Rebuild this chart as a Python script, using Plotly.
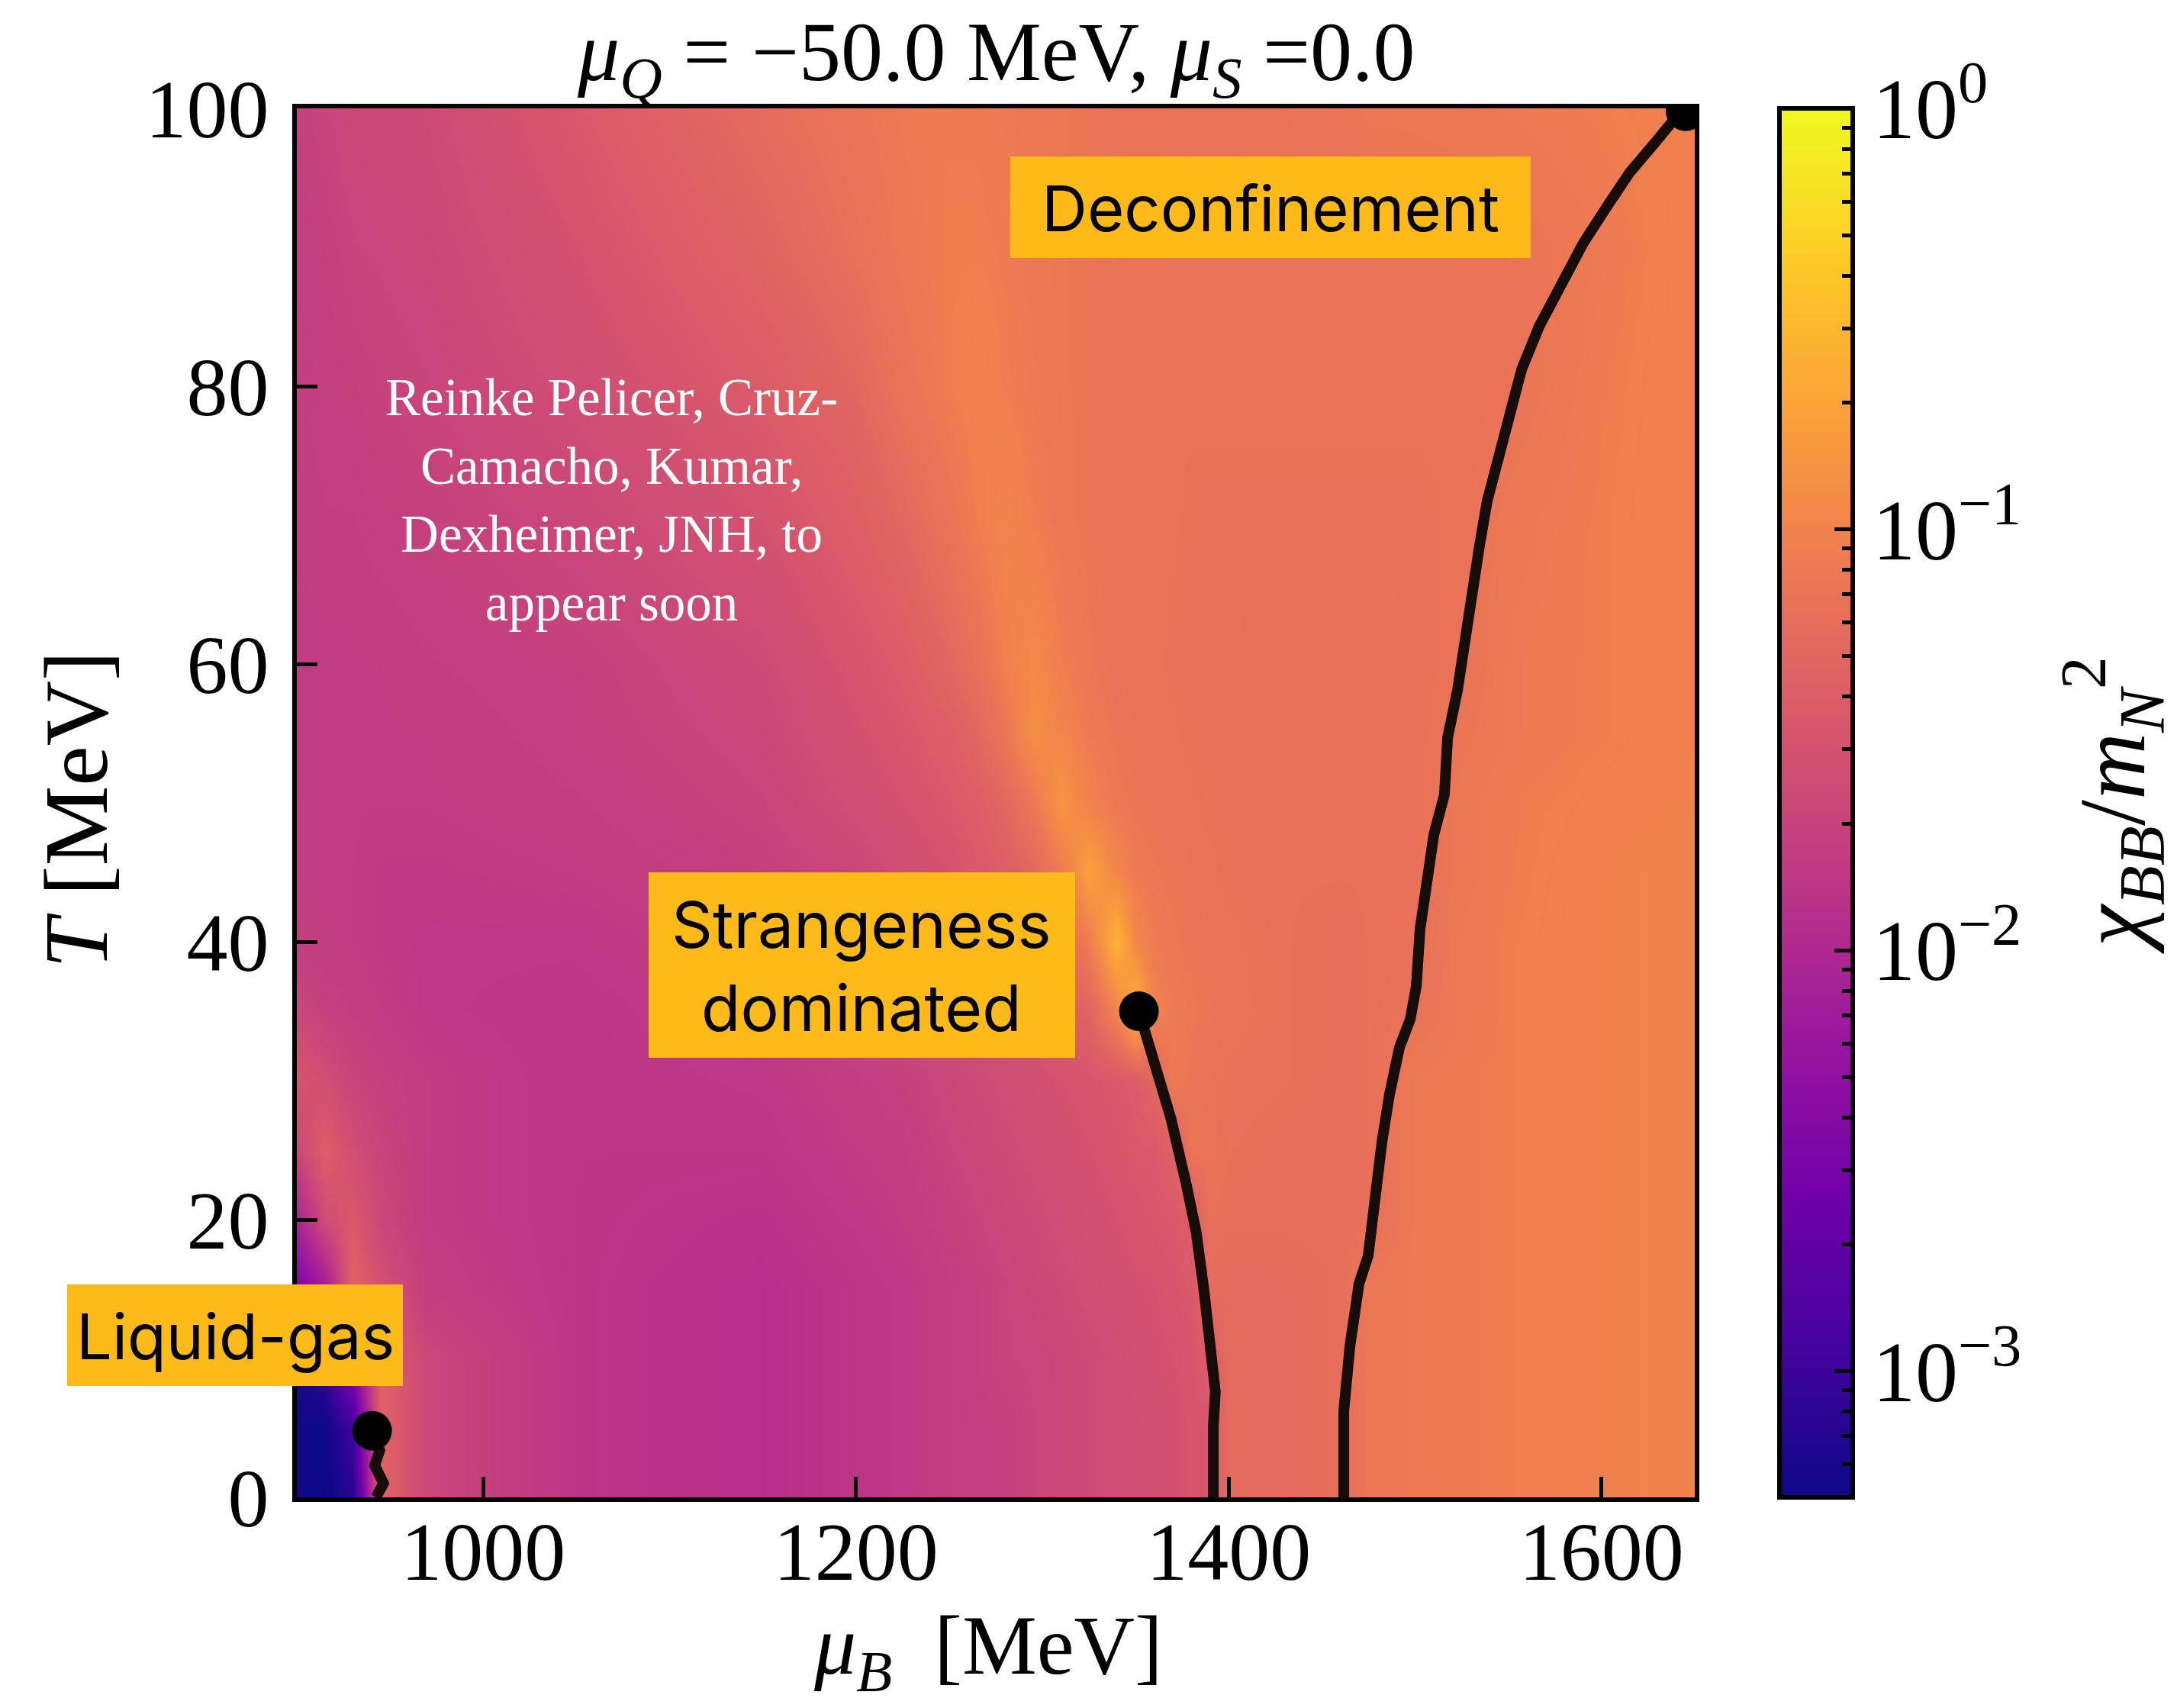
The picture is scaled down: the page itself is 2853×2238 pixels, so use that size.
import numpy as np
import plotly.graph_objects as go

# ---------------- data ----------------
muB_cols = [900, 915, 930, 945, 970, 1050, 1150, 1200, 1225, 1250, 1265, 1280, 1295, 1310, 1325,
            1340, 1350, 1360, 1370, 1380, 1390, 1400, 1430, 1460, 1475, 1500, 1525, 1550, 1600, 1650]
T_rows = [0, 5, 10, 15, 20, 25, 30, 35, 40, 45, 50, 55, 60, 70, 80, 90, 100]

# log10(chi_BB / m_N^2) per temperature row (columns = muB_cols)
logchi_T0 = [-3.30, -3.30, -3.14, -1.32, -1.65, -1.85, -1.91, -1.85, -1.82, -1.75, -1.73, -1.72, -1.68, -1.65, -1.62, -1.58, -1.57, -1.55, -1.53, -1.50, -1.47, -1.25, -1.24, -1.22, -1.11, -1.09, -1.07, -1.06, -1.02, -0.99]
logchi_T5 = [-3.30, -3.30, -2.97, -1.32, -1.65, -1.85, -1.91, -1.85, -1.82, -1.75, -1.73, -1.72, -1.68, -1.65, -1.62, -1.58, -1.57, -1.55, -1.53, -1.50, -1.47, -1.25, -1.24, -1.22, -1.11, -1.09, -1.07, -1.06, -1.02, -0.99]
logchi_T10 = [-3.23, -3.04, -2.31, -1.39, -1.65, -1.85, -1.91, -1.85, -1.82, -1.75, -1.72, -1.68, -1.67, -1.65, -1.62, -1.58, -1.55, -1.53, -1.52, -1.49, -1.39, -1.25, -1.24, -1.22, -1.11, -1.09, -1.07, -1.06, -1.02, -0.99]
logchi_T15 = [-2.48, -2.15, -1.32, -1.55, -1.75, -1.85, -1.91, -1.85, -1.82, -1.75, -1.72, -1.68, -1.65, -1.62, -1.58, -1.55, -1.53, -1.52, -1.49, -1.45, -1.24, -1.25, -1.24, -1.22, -1.12, -1.09, -1.07, -1.06, -1.02, -0.99]
logchi_T20 = [-2.05, -1.58, -1.45, -1.65, -1.78, -1.85, -1.88, -1.82, -1.78, -1.72, -1.68, -1.65, -1.62, -1.58, -1.55, -1.52, -1.49, -1.47, -1.45, -1.39, -1.20, -1.22, -1.22, -1.22, -1.20, -1.09, -1.07, -1.06, -1.02, -0.99]
logchi_T25 = [-1.65, -1.39, -1.58, -1.68, -1.78, -1.85, -1.85, -1.78, -1.75, -1.68, -1.65, -1.62, -1.58, -1.55, -1.52, -1.49, -1.45, -1.44, -1.36, -1.16, -1.17, -1.20, -1.22, -1.22, -1.20, -1.09, -1.07, -1.06, -1.02, -0.99]
logchi_T30 = [-1.49, -1.58, -1.68, -1.72, -1.78, -1.85, -1.82, -1.75, -1.72, -1.65, -1.62, -1.58, -1.55, -1.52, -1.49, -1.45, -1.42, -1.29, -1.09, -1.14, -1.16, -1.19, -1.20, -1.22, -1.20, -1.09, -1.07, -1.06, -1.02, -0.99]
logchi_T35 = [-1.65, -1.72, -1.75, -1.78, -1.82, -1.85, -1.78, -1.72, -1.65, -1.58, -1.55, -1.52, -1.49, -1.42, -1.32, -0.99, -0.59, -1.02, -1.09, -1.12, -1.14, -1.16, -1.20, -1.22, -1.20, -1.17, -1.09, -1.06, -1.02, -0.99]
logchi_T40 = [-1.75, -1.77, -1.78, -1.80, -1.82, -1.82, -1.75, -1.68, -1.62, -1.55, -1.52, -1.45, -1.39, -1.29, -1.06, -0.56, -0.96, -1.09, -1.12, -1.14, -1.16, -1.17, -1.20, -1.22, -1.20, -1.19, -1.09, -1.06, -1.02, -0.99]
logchi_T45 = [-1.77, -1.78, -1.78, -1.80, -1.80, -1.78, -1.72, -1.65, -1.58, -1.52, -1.45, -1.39, -1.29, -1.09, -0.73, -0.97, -1.09, -1.12, -1.14, -1.16, -1.17, -1.19, -1.20, -1.20, -1.20, -1.19, -1.11, -1.07, -1.02, -0.99]
logchi_T50 = [-1.77, -1.78, -1.78, -1.78, -1.78, -1.75, -1.68, -1.58, -1.52, -1.45, -1.39, -1.29, -1.11, -0.83, -1.01, -1.11, -1.14, -1.16, -1.17, -1.17, -1.19, -1.19, -1.20, -1.20, -1.20, -1.19, -1.11, -1.07, -1.04, -1.01]
logchi_T55 = [-1.78, -1.78, -1.78, -1.78, -1.77, -1.73, -1.65, -1.53, -1.47, -1.39, -1.29, -1.14, -0.89, -0.98, -1.09, -1.14, -1.16, -1.17, -1.17, -1.19, -1.19, -1.19, -1.20, -1.20, -1.20, -1.19, -1.14, -1.09, -1.06, -1.02]
logchi_T60 = [-1.78, -1.78, -1.78, -1.77, -1.75, -1.72, -1.62, -1.49, -1.42, -1.29, -1.19, -1.04, -0.94, -1.06, -1.12, -1.16, -1.17, -1.17, -1.19, -1.19, -1.19, -1.19, -1.20, -1.20, -1.20, -1.19, -1.17, -1.09, -1.06, -1.02]
logchi_T70 = [-1.77, -1.75, -1.75, -1.73, -1.72, -1.65, -1.52, -1.39, -1.29, -1.16, -1.06, -0.99, -1.06, -1.11, -1.14, -1.16, -1.17, -1.17, -1.17, -1.19, -1.19, -1.19, -1.19, -1.19, -1.19, -1.19, -1.17, -1.11, -1.06, -1.02]
logchi_T80 = [-1.75, -1.73, -1.72, -1.70, -1.68, -1.58, -1.42, -1.29, -1.16, -1.06, -1.02, -1.06, -1.09, -1.12, -1.14, -1.16, -1.16, -1.17, -1.17, -1.17, -1.17, -1.17, -1.17, -1.17, -1.17, -1.17, -1.17, -1.16, -1.07, -1.02]
logchi_T90 = [-1.73, -1.72, -1.68, -1.67, -1.65, -1.52, -1.32, -1.19, -1.11, -1.06, -1.06, -1.07, -1.11, -1.12, -1.14, -1.16, -1.16, -1.16, -1.17, -1.17, -1.17, -1.17, -1.17, -1.17, -1.17, -1.16, -1.16, -1.16, -1.09, -1.02]
logchi_T100 = [-1.72, -1.68, -1.65, -1.63, -1.62, -1.45, -1.24, -1.14, -1.09, -1.07, -1.07, -1.09, -1.11, -1.12, -1.14, -1.16, -1.16, -1.16, -1.16, -1.17, -1.17, -1.17, -1.16, -1.14, -1.12, -1.12, -1.11, -1.09, -1.06, -1.02]

# phase-transition lines
lg_muB = [940.4, 944.5, 941.8, 946.5, 942.5]
lg_T = [4.8, 3.4, 2.3, 1.0, 0.0]
str_muB = [1351.8, 1368.9, 1377.1, 1382.5, 1386.6, 1390.0, 1392.8, 1391.7, 1391.7]
str_T = [35.0, 27.3, 22.6, 19.1, 15.0, 10.9, 7.6, 5.1, 0.0]
dec_muB = [1461.7, 1461.7, 1465.0, 1469.9, 1474.8, 1478.1, 1482.2, 1486.2, 1491.6, 1497.3,
           1500.6, 1502.6, 1505.9, 1510.0, 1515.7, 1517.4, 1522.7, 1526.4, 1530.5, 1534.5,
           1538.6, 1547.2, 1557.1, 1566.5, 1576.3, 1590.2, 1604.2, 1615.2, 1629.1, 1638.9, 1645.1]
dec_T = [0.0, 6.2, 10.9, 15.4, 17.4, 21.5, 25.6, 29.0, 32.4, 34.4,
         36.8, 40.9, 44.3, 47.7, 50.6, 54.7, 58.1, 61.6, 65.4, 68.5,
         71.7, 76.1, 81.2, 84.3, 86.9, 90.3, 93.2, 95.4, 97.6, 99.2, 99.8]
# critical points
cp_muB = [940.4, 1351.8, 1645.1]
cp_T = [4.8, 35.0, 99.8]

x_ticks = [1000, 1200, 1400, 1600]
y_ticks = [0, 20, 40, 60, 80, 100]
cb_ticks = [-3, -2, -1, 0]
cb_ticktext = ["10<sup>−3</sup>", "10<sup>−2</sup>", "10<sup>−1</sup>", "10<sup>0</sup>"]
zmin, zmax = -3.3, 0.0

z = [logchi_T0, logchi_T5, logchi_T10, logchi_T15, logchi_T20, logchi_T25, logchi_T30,
     logchi_T35, logchi_T40, logchi_T45, logchi_T50, logchi_T55, logchi_T60, logchi_T70,
     logchi_T80, logchi_T90, logchi_T100]
assert len(z) == len(T_rows)
for row in z:
    assert len(row) == len(muB_cols)

# ---------------- layout geometry (screen pixels of the reference) ----------------
OFF = 8                      # default <body> margin of the written page
W, H = 2853 - OFF, 2238 - OFF
L_S, R_S, T_S, B_S = 389, 2221, 142, 1962
PW, PH = R_S - L_S, B_S - T_S


def px(xs):
    return (xs - L_S) / PW


def py(ys):
    return (B_S - ys) / PH


SERIF = "Liberation Serif"
SANS = "Inter"
BOX = "#FDBA19"
LINE_COL = "#160d09"

CB_LEFT = 2332
CB_THICK = 96

cb_common = dict(x=px(CB_LEFT), xanchor="left", xpad=0, y=0.5, yanchor="middle",
                 len=1, lenmode="fraction", ypad=0, thickness=CB_THICK)

fig = go.Figure()
fig.add_trace(go.Heatmap(
    x=muB_cols, y=T_rows, z=z, colorscale="Plasma", zmin=zmin, zmax=zmax,
    zsmooth="best", hoverinfo="skip",
    colorbar=dict(
        **cb_common,
        outlinewidth=6, outlinecolor="black",
        tickvals=cb_ticks, ticktext=cb_ticktext, ticks="inside", ticklen=27,
        tickwidth=5, tickcolor="black",
        tickfont=dict(family=SERIF, size=112, color="black"),
    ),
))

# minor ticks of the logarithmic colour bar (transparent overlay bar)
minor_vals = [d + float(np.log10(k)) for d in range(-4, 1) for k in range(2, 10)
              if zmin < d + np.log10(k) < zmax]
fig.add_trace(go.Scatter(
    x=[None], y=[None], mode="markers", hoverinfo="skip", showlegend=False,
    marker=dict(color=[zmin], cmin=zmin, cmax=zmax,
                colorscale=[[0, "rgba(0,0,0,0)"], [1, "rgba(0,0,0,0)"]],
                showscale=True,
                colorbar=dict(**cb_common, outlinewidth=0, bgcolor="rgba(0,0,0,0)",
                              tickvals=minor_vals, ticks="inside", ticklen=14,
                              tickwidth=5, tickcolor="black", showticklabels=False)),
))

for xs, ys in [(lg_muB, lg_T), (str_muB, str_T), (dec_muB, dec_T)]:
    fig.add_trace(go.Scatter(x=xs, y=ys, mode="lines",
                             line=dict(color=LINE_COL, width=14),
                             hoverinfo="skip", showlegend=False))
fig.add_trace(go.Scatter(x=cp_muB, y=cp_T, mode="markers",
                         marker=dict(color="black", size=52, line=dict(width=0)),
                         hoverinfo="skip", showlegend=False))

axis_common = dict(
    ticks="inside", ticklen=27, tickwidth=5, tickcolor="black",
    showline=True, linewidth=6, linecolor="black", mirror=True,
    showgrid=False, zeroline=False,
    tickfont=dict(family=SERIF, size=108, color="black"),
)
fig.update_layout(
    width=W, height=H,
    margin=dict(l=L_S - OFF, r=W - (R_S - OFF), t=T_S - OFF, b=H - (B_S - OFF), autoexpand=False),
    paper_bgcolor="white", plot_bgcolor="white",
    showlegend=False,
    xaxis=dict(range=[900, 1650], tickvals=x_ticks, ticklabelstandoff=-28, **axis_common),
    yaxis=dict(range=[0, 100], tickvals=y_ticks, ticklabelstandoff=9, **axis_common),
)

# label boxes (screen px: x0, x1, y0, y1)
shapes = []
boxes = [
    (1324, 2006, 205, 338),   # Deconfinement
    (850, 1409, 1143, 1386),  # Strangeness dominated
    (88, 528, 1683, 1816),    # Liquid-gas
]
for x0, x1, y0, y1 in boxes:
    shapes.append(dict(type="rect", xref="paper", yref="paper",
                       x0=px(x0), x1=px(x1), y0=py(y1), y1=py(y0),
                       fillcolor=BOX, line=dict(width=0), layer="above"))
fig.update_layout(shapes=shapes)


def note(text, xs, ys, size, family, color="black", angle=0):
    return dict(text=text, x=px(xs), y=py(ys), xref="paper", yref="paper",
                xanchor="center", yanchor="middle", showarrow=False, align="center",
                textangle=angle, font=dict(family=family, size=size, color=color))


ann = [
    note("Deconfinement", 1665, 273, 83, SANS),
    note("Strangeness<br>dominated", 1129, 1266, 84, SANS),
    note("Liquid-gas", 308, 1751, 83, SANS),
    note("Reinke Pelicer, Cruz-<br>Camacho, Kumar,<br>Dexheimer, JNH, to<br>appear soon",
         801, 655, 69, SERIF, color="white"),
    note("<i>μ</i><sub><i>Q</i></sub> = −50.0 MeV, <i>μ</i><sub><i>S</i></sub> =0.0",
         1305, 76, 110, SERIF),
    note("<i>μ</i><sub><i>B</i></sub>\u2002[MeV]", 1295, 2164, 110, SERIF),
    note("<i>T</i> [MeV]", 100, 1061, 118, SERIF, angle=-90),
    note("<i>χ</i><sub><i>BB</i></sub>/<i>m</i><sub><i>N</i></sub><sup>2</sup>",
         2768, 1055, 122, SERIF, angle=-90),
]
fig.update_layout(annotations=ann)

fig.write_html("out.html")
